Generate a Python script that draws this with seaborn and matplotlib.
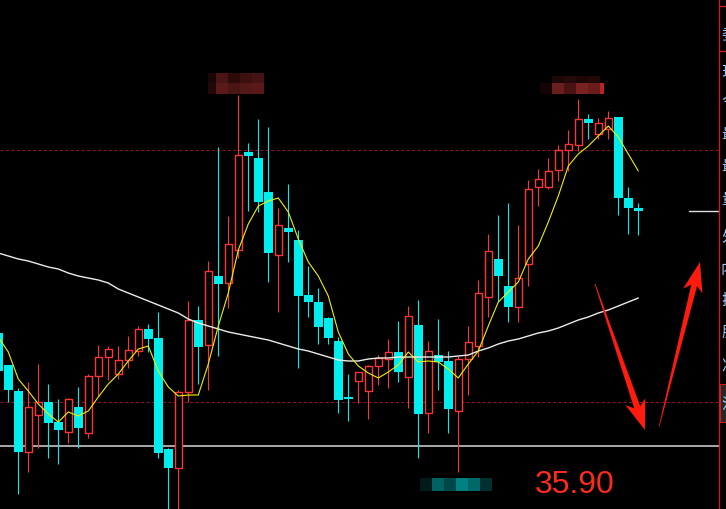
import numpy as np
import pandas as pd
import matplotlib
matplotlib.use("Agg")
import matplotlib.pyplot as plt
from matplotlib.patches import Polygon, Rectangle
import seaborn as sns

# ---------------- data (prices) ----------------
opens = [37.03, 36.71, 36.45, 35.84, 36.21, 36.34, 36.14, 36.04, 36.29, 36.03,
         36.60, 36.79, 36.62, 36.76, 36.85, 37.07, 36.98, 35.87, 35.68, 36.44,
         37.16, 36.91, 37.60, 37.53, 37.86, 38.84, 38.78, 38.44, 37.81, 38.08,
         37.96, 37.41, 37.34, 37.18, 36.95, 36.39, 36.55, 36.45, 36.70, 36.77,
         36.84, 36.59, 37.11, 36.23, 36.81, 36.75, 36.25, 36.77, 36.90, 37.39,
         37.77, 37.50, 37.29, 37.72, 38.49, 38.49, 38.66, 38.86, 38.91, 39.17,
         39.02, 39.07, 39.19, 38.38, 38.28]
highs = [37.07, 36.71, 36.48, 36.54, 36.72, 36.52, 36.37, 36.38, 36.49, 36.62,
         36.91, 36.90, 36.90, 37.00, 37.10, 37.12, 37.24, 35.88, 36.46, 37.35,
         37.30, 37.75, 38.89, 38.20, 39.41, 38.93, 39.17, 39.09, 38.28, 38.52,
         38.06, 37.70, 37.48, 37.19, 36.99, 36.62, 36.64, 36.71, 36.81, 36.97,
         37.15, 37.30, 37.36, 36.95, 37.17, 36.85, 36.80, 37.10, 37.56, 38.02,
         38.21, 38.33, 38.11, 38.56, 38.67, 38.78, 38.91, 39.06, 39.37, 39.22,
         39.18, 39.25, 39.19, 38.49, 38.33]
lows = [36.62, 36.34, 35.42, 35.64, 35.88, 35.78, 35.72, 35.93, 35.88, 35.98,
        36.40, 36.56, 36.57, 36.68, 36.80, 36.84, 35.78, 35.17, 35.17, 36.34,
        36.52, 36.46, 36.80, 37.28, 37.78, 38.25, 38.24, 37.54, 37.24, 37.74,
        36.68, 37.19, 36.92, 36.92, 36.23, 36.15, 36.33, 36.17, 36.51, 36.48,
        36.54, 36.28, 35.78, 36.03, 36.46, 36.03, 35.64, 36.41, 36.79, 37.19,
        37.34, 37.14, 37.14, 37.50, 38.30, 38.47, 38.55, 38.65, 38.85, 38.97,
        38.97, 38.97, 38.21, 38.02, 38.01]
closes = [36.65, 36.46, 35.84, 36.29, 36.34, 36.13, 36.06, 36.37, 36.08, 36.60,
          36.79, 36.87, 36.76, 36.86, 37.07, 36.97, 35.83, 35.68, 36.44, 37.16,
          36.89, 37.65, 37.52, 37.92, 38.81, 38.80, 38.34, 37.83, 38.11, 38.04,
          37.40, 37.34, 37.09, 36.98, 36.36, 36.37, 36.64, 36.70, 36.78, 36.84,
          36.64, 37.20, 36.22, 36.85, 36.74, 36.27, 36.77, 36.94, 37.43, 37.85,
          37.60, 37.29, 37.58, 38.47, 38.57, 38.65, 38.86, 38.92, 39.17, 39.13,
          39.13, 39.18, 38.38, 38.28, 38.25]
ma_short = [36.99, 36.84, 36.57, 36.45, 36.32, 36.22, 36.14, 36.24, 36.20, 36.25,
            36.39, 36.52, 36.62, 36.75, 36.87, 36.90, 36.65, 36.49, 36.40, 36.41,
            36.41, 36.72, 37.10, 37.43, 37.86, 38.12, 38.30, 38.35, 38.38, 38.24,
            37.97, 37.74, 37.60, 37.40, 37.04, 36.82, 36.70, 36.63, 36.58, 36.64,
            36.71, 36.84, 36.74, 36.75, 36.74, 36.67, 36.58, 36.72, 36.85, 37.10,
            37.34, 37.44, 37.54, 37.77, 37.90, 38.14, 38.40, 38.70, 38.82, 38.90,
            39.00, 39.10, 38.99, 38.82, 38.65]
ma_long = [37.83, 37.80, 37.77, 37.75, 37.72, 37.69, 37.67, 37.63, 37.60, 37.58,
           37.56, 37.53, 37.47, 37.43, 37.39, 37.35, 37.31, 37.27, 37.23, 37.17,
           37.13, 37.10, 37.07, 37.04, 37.02, 37.00, 36.98, 36.96, 36.93, 36.90,
           36.87, 36.85, 36.82, 36.79, 36.76, 36.75, 36.75, 36.77, 36.78, 36.78,
           36.79, 36.79, 36.79, 36.79, 36.79, 36.79, 36.80, 36.81, 36.85, 36.88,
           36.92, 36.95, 36.97, 37.00, 37.03, 37.05, 37.08, 37.12, 37.16, 37.19,
           37.23, 37.26, 37.30, 37.34, 37.38]
support_price = 35.90
dash_levels = [38.86, 36.34]
right_mark_price = 38.25
price_label = "35.90"
side_labels = ["委", "现", "今", "最", "最", "量", "外", "内", "换", "股", "净", "流"]

RED = "#ff3535"
CYAN = "#00eeee"

df = pd.DataFrame({"i": np.arange(len(opens)), "open": opens, "high": highs,
                   "low": lows, "close": closes, "ma5": ma_short, "ma60": ma_long})

# ---------------- figure ----------------
sns.set_style("dark", {"axes.facecolor": "black", "figure.facecolor": "black"})
plt.rcParams["font.family"] = ["Noto Sans CJK SC", "DejaVu Sans"]

W, H = 726, 510
fig = plt.figure(figsize=(W / 100, H / 100), dpi=100, facecolor="black")
ax = fig.add_axes([0, 0, 719 / W, 1])
ax.set_facecolor("black")
for s in ax.spines.values():
    s.set_visible(False)
ax.grid(False)

# reference lines
ax.axhline(support_price, color="#d8d8d8", lw=1.1, zorder=1)
for lv in dash_levels:
    ax.axhline(lv, color="#8c1428", lw=0.75, dashes=(2.9, 2.3), zorder=1)

# candles
up = df["close"] >= df["open"]
dn = ~up
top = np.maximum(df["open"], df["close"])
bot = np.minimum(df["open"], df["close"])
# wicks
ax.vlines(df["i"][up], top[up], df["high"][up], color=RED, lw=0.8, zorder=2)
ax.vlines(df["i"][up], df["low"][up], bot[up], color=RED, lw=0.8, zorder=2)
ax.vlines(df["i"][dn], df["low"][dn], df["high"][dn], color=CYAN, lw=0.8, zorder=2)
# bodies
ax.bar(df["i"][up], (top - bot)[up], bottom=bot[up], width=0.76,
       facecolor="black", edgecolor=RED, linewidth=1.0, zorder=3)
ax.bar(df["i"][dn], np.maximum((top - bot)[dn], 0.02), bottom=bot[dn], width=0.86,
       color=CYAN, linewidth=0, zorder=3)

# moving averages
sns.lineplot(data=df, x="i", y="ma60", color="#ececec", lw=1.0, ax=ax,
             estimator=None, sort=False, zorder=4)
sns.lineplot(data=df, x="i", y="ma5", color="#f0f000", lw=0.8, ax=ax,
             estimator=None, sort=False, zorder=5)
ax.set_xlabel("")
ax.set_ylabel("")
ax.set_xticks([])
ax.set_yticks([])
ax.set_xlim(0.17, 72.07)
ax.set_ylim(35.27, 40.37)

# ---------------- overlay (pixel space) ----------------
ov = fig.add_axes([0, 0, 1, 1])
ov.set_xlim(0, W)
ov.set_ylim(H, 0)
ov.axis("off")
ov.patch.set_alpha(0)

# short white mark at right edge
yy = ax.transData.transform((0, right_mark_price))[1]
ov.plot([689, 719], [H - yy, H - yy], color="#e0e0e0", lw=1.0)

# right panel border
ov.plot([719.3, 719.3], [0, H], color="#c81e1e", lw=1.0)
ov.plot([719.3, W], [7.3, 7.3], color="#c81e1e", lw=1.0)
ov.plot([719.3, W], [52.3, 52.3], color="#c81e1e", lw=1.0)
ov.add_patch(Rectangle((719.8, 385), 8, 37.7, facecolor="#262626",
                       edgecolor="#c81e1e", lw=0.8))
label_y = [36, 72, 102, 135, 167, 200, 238, 270, 300, 332, 366, 404]
for ly, t in zip(label_y, side_labels):
    ov.text(721, ly, t, color="#9ccaff", fontsize=11, va="center", ha="left",
            family=["Noto Sans CJK SC", "DejaVu Sans"], clip_on=False)

# mosaics (blurred labels)
def mosaic(cells):
    for x0, y0, w, h, c in cells:
        ov.add_patch(Rectangle((x0, y0), w, h, facecolor=c, edgecolor="none"))

mosaic([
    (208, 74, 8, 10, "#1a0606"), (216, 74, 12.3, 10, "#4a1515"),
    (228.3, 74, 11.7, 10, "#2e0b0b"), (240, 74, 11.7, 10, "#3d1010"),
    (251.7, 74, 12.3, 10, "#451313"),
    (208, 84, 8, 11, "#220808"), (216, 84, 12.3, 11, "#5a1a1a"),
    (228.3, 84, 11.7, 11, "#4a1515"), (240, 84, 11.7, 11, "#531818"),
    (251.7, 84, 12.3, 11, "#5a1919"),
])
mosaic([
    (552, 77, 12, 7, "#1e0707"), (564, 77, 12, 7, "#260909"),
    (576, 77, 12, 7, "#1c0606"), (588, 77, 12, 7, "#240808"),
    (540, 84, 12, 11, "#140404"), (552, 84, 12, 11, "#6a1e1e"),
    (564, 84, 12, 11, "#4a1212"), (576, 84, 12, 11, "#7a2222"),
    (588, 84, 12, 11, "#6a1c1c"), (600, 84, 3.5, 11, "#b82222"),
])
mosaic([
    (420, 479.3, 12, 12.4, "#021a1a"), (432, 479.3, 12, 12.4, "#006262"),
    (444, 479.3, 12, 12.4, "#004848"), (456, 479.3, 12, 12.4, "#008080"),
    (468, 479.3, 12, 12.4, "#006868"), (480, 479.3, 12, 12.4, "#003030"),
])

# price label
ov.text(575, 493, price_label, color="#ff2a1a", fontsize=23, ha="center",
        va="baseline", family="Liberation Sans")

# red arrows
def arrow_poly(tail, tip, head_len, head_hw, shaft_tail, shaft_head, notch):
    t = np.array(tail, float)
    p = np.array(tip, float)
    d = p - t
    u = d / np.linalg.norm(d)
    n = np.array([-u[1], u[0]])
    base = p - u * head_len
    pts = [t + n * shaft_tail, base + n * shaft_head,
           base + n * head_hw - u * notch, p,
           base - n * head_hw - u * notch, base - n * shaft_head,
           t - n * shaft_tail]
    ov.add_patch(Polygon(pts, closed=True, facecolor="#ff1c0c", edgecolor="none"))

arrow_poly((595, 285), (645, 431), 24, 10.5, 0.4, 3.2, 6)
arrow_poly((659, 428), (700, 263), 24, 10, 0.3, 3.0, 6)

fig.savefig("out.png", dpi=100, facecolor="black")
